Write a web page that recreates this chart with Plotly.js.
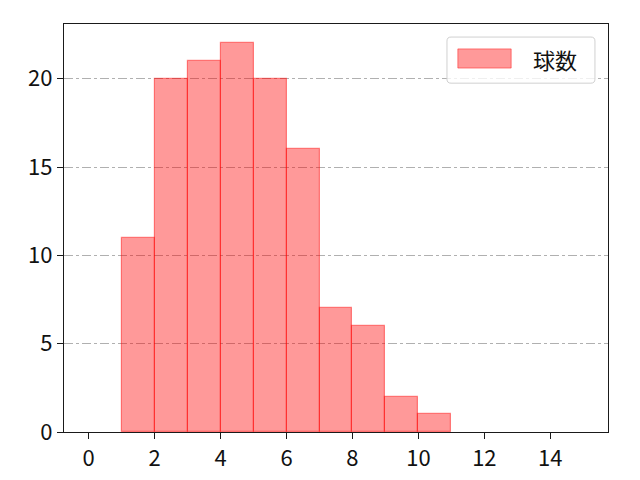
<!DOCTYPE html>
<html>
<head>
<meta charset="utf-8">
<script src="https://cdn.plot.ly/plotly-3.0.1.min.js"></script>
<style>
  body { margin: 0; }
  #chart { width: 640px; height: 480px; }
</style>
</head>
<body>
<div id="chart"></div>
<script>
// bin left edges and counts
let binStart = [1, 2, 3, 4, 5, 6, 7, 8, 9, 10];
let counts = [11, 20, 21, 22, 20, 16, 7, 6, 2, 1];
let seriesName = '球数';
let xTicks = [0, 2, 4, 6, 8, 10, 12, 14];
let yTicks = [0, 5, 10, 15, 20];

let centers = binStart.map(function (b) { return b + 0.5; });

let fillColor = 'rgba(255, 0, 0, 0.4)';
let edgeColor = 'rgba(255, 0, 0, 0.45)';

let trace1 = {
  type: 'bar',
  x: centers,
  y: counts,
  width: 1,
  name: seriesName,
  showlegend: false,
  marker: {
    color: fillColor,
    line: { color: edgeColor, width: 1.2 }
  }
};

let axisCommon = {
  showline: true,
  linecolor: '#1a1a1a',
  linewidth: 1.3,
  mirror: true,
  ticks: 'outside',
  ticklen: 6,
  tickwidth: 1.2,
  tickcolor: '#1a1a1a',
  zeroline: false,
  tickfont: { size: 22, color: '#111' }
};

// rounded legend frame in paper coords
function roundRect(x0, y0, x1, y1, rx, ry) {
  return 'M' + (x0 + rx) + ',' + y0 +
    ' L' + (x1 - rx) + ',' + y0 + ' Q' + x1 + ',' + y0 + ' ' + x1 + ',' + (y0 + ry) +
    ' L' + x1 + ',' + (y1 - ry) + ' Q' + x1 + ',' + y1 + ' ' + (x1 - rx) + ',' + y1 +
    ' L' + (x0 + rx) + ',' + y1 + ' Q' + x0 + ',' + y1 + ' ' + x0 + ',' + (y1 - ry) +
    ' L' + x0 + ',' + (y0 + ry) + ' Q' + x0 + ',' + y0 + ' ' + (x0 + rx) + ',' + y0 + ' Z';
}

// legend drawn by hand so the swatch is a wide matplotlib-style patch
let legendShapes = [
  {
    type: 'path', xref: 'paper', yref: 'paper',
    path: roundRect(0.704, 0.855, 0.976, 0.968, 0.0074, 0.0098),
    fillcolor: 'rgba(255,255,255,0.8)',
    line: { color: '#d0d0d0', width: 1 }
  },
  {
    type: 'rect', xref: 'paper', yref: 'paper',
    x0: 0.724, x1: 0.822, y0: 0.892, y1: 0.939,
    fillcolor: fillColor,
    line: { color: edgeColor, width: 1 }
  }
];

let legendText = [{
  xref: 'paper', yref: 'paper',
  x: 0.858, y: 0.913,
  xanchor: 'left', yanchor: 'middle',
  text: seriesName,
  showarrow: false,
  font: { size: 22, color: '#111' }
}];

let layout = {
  width: 640,
  height: 480,
  margin: { l: 64, r: 32, t: 24, b: 48 },
  paper_bgcolor: '#fff',
  plot_bgcolor: '#fff',
  font: { family: '"Noto Sans CJK JP", "DejaVu Sans", sans-serif' },
  bargap: 0,
  showlegend: false,
  shapes: legendShapes,
  annotations: legendText,
  xaxis: Object.assign({}, axisCommon, {
    range: [-0.75, 15.75],
    tickvals: xTicks,
    showgrid: false
  }),
  yaxis: Object.assign({}, axisCommon, {
    range: [0, 23.1],
    tickvals: yTicks,
    showgrid: true,
    gridcolor: '#b0b0b0',
    gridwidth: 0.8,
    griddash: 'dashdot'
  })
};

Plotly.newPlot('chart', [trace1], layout, { displayModeBar: false });
</script>
</body>
</html>
